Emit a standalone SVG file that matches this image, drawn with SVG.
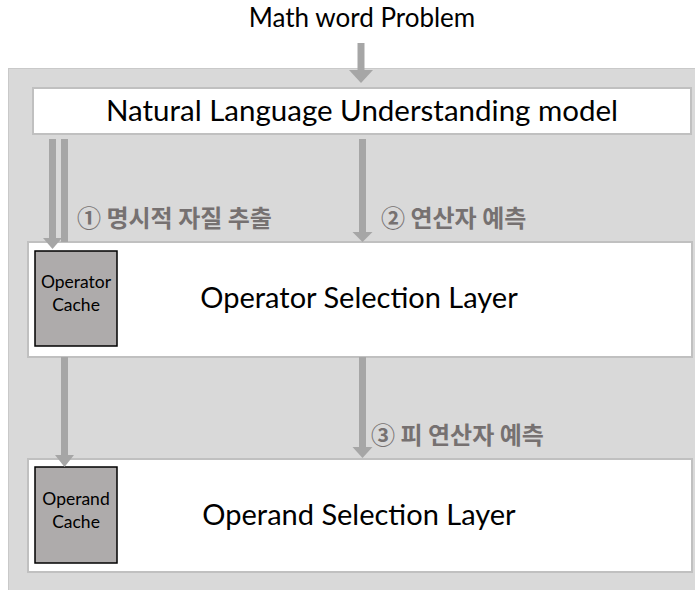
<svg xmlns="http://www.w3.org/2000/svg" width="695" height="590" viewBox="0 0 695 590">
  <style>
    .panel { fill: #d9d9d9; stroke: #c9c9c9; stroke-width: 1; }
    .layer { fill: #ffffff; stroke: #c0c0c0; stroke-width: 2; }
    .cache { fill: #aeabab; stroke: #000000; stroke-width: 1.5; }
    .title { font-family: Lato, "Liberation Sans", sans-serif; fill: #000000; text-anchor: middle; }
    .small { font-family: Lato, "Liberation Sans", sans-serif; font-size: 17.5px; fill: #000000; text-anchor: middle; }
    .step { font-family: "Noto Sans CJK KR", "Noto Sans", sans-serif; font-weight: bold; font-size: 24px; fill: #767171; }
    .shaft { stroke: #a6a6a6; stroke-width: 7; fill: none; }
    .head { fill: #a6a6a6; }
  </style>

  <text class="title" x="362" y="27" font-size="26">Math word Problem</text>

  <rect class="panel" x="8.5" y="68.5" width="690" height="525"/>

  <g id="nlu">
    <rect class="layer" x="33" y="88" width="658" height="46"/>
    <text class="title" x="362" y="121" font-size="29.5">Natural Language Understanding model</text>
  </g>

  <g id="operator-layer">
    <rect class="layer" x="28" y="242" width="664" height="115"/>
    <text class="title" x="359" y="308" font-size="29">Operator Selection Layer</text>
  </g>

  <g id="operator-cache">
    <rect class="cache" x="35" y="251" width="82" height="95"/>
    <text class="small" x="76" y="288">Operator</text>
    <text class="small" x="76" y="311">Cache</text>
  </g>

  <g id="operand-layer">
    <rect class="layer" x="28" y="459" width="664" height="113"/>
    <text class="title" x="359" y="525" font-size="29">Operand Selection Layer</text>
  </g>

  <g id="operand-cache">
    <rect class="cache" x="35" y="467" width="82" height="96"/>
    <text class="small" x="76" y="505">Operand</text>
    <text class="small" x="76" y="528">Cache</text>
  </g>

  <g id="connectors">
    <!-- input into the NLU model -->
    <line class="shaft" x1="361" y1="43" x2="361" y2="71"/>
    <polygon class="head" points="349,70 373,70 361,83"/>

    <!-- feature extraction into the operator cache -->
    <line class="shaft" x1="52.5" y1="139" x2="52.5" y2="239"/>
    <polygon class="head" points="43,238 62,238 52.5,249"/>
    <line class="shaft" x1="64.5" y1="139" x2="64.5" y2="242"/>

    <!-- operator prediction -->
    <line class="shaft" x1="362.5" y1="139" x2="362.5" y2="233"/>
    <polygon class="head" points="352.5,232 372.5,232 362.5,242"/>

    <!-- operator cache into operand cache -->
    <line class="shaft" x1="64.5" y1="357" x2="64.5" y2="456"/>
    <polygon class="head" points="55,455 74,455 64.5,467"/>

    <!-- operand prediction -->
    <line class="shaft" x1="362.5" y1="357" x2="362.5" y2="448"/>
    <polygon class="head" points="352.5,447 372.5,447 362.5,458"/>
  </g>

  <text class="step" x="77" y="227">① 명시적 자질 추출</text>
  <text class="step" x="381" y="227">② 연산자 예측</text>
  <text class="step" x="371" y="444">③ 피 연산자 예측</text>
</svg>
